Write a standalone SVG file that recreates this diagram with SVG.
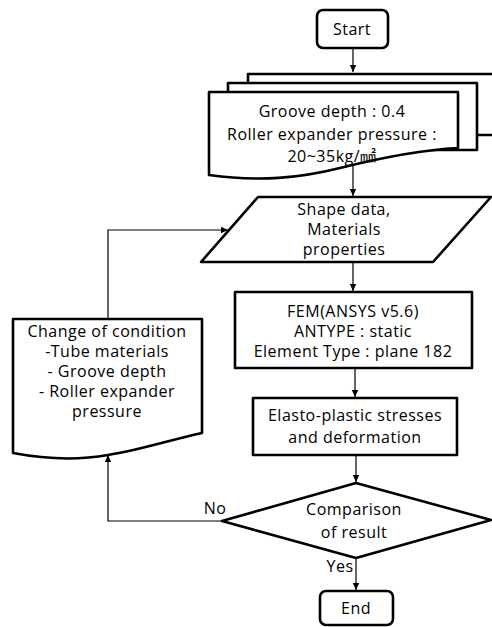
<svg xmlns="http://www.w3.org/2000/svg" width="492" height="627" viewBox="0 0 492 627">
<style>
.s{fill:#fff;stroke:#000;stroke-width:2.6;stroke-linejoin:round}
.c{fill:none;stroke:#000;stroke-width:1.2}
text{font-family:"Open Sans","Noto Sans CJK KR",sans-serif;font-size:16px;letter-spacing:0.5px;fill:#000;text-anchor:middle}
</style>
<defs>
<marker id="ah" markerUnits="userSpaceOnUse" markerWidth="8" markerHeight="8" refX="7" refY="4" orient="auto">
<path d="M0,0.8 L7,4 L0,7.2 Z" fill="#000"/>
</marker>
</defs>
<rect width="492" height="627" fill="#fff"/>
<g id="connectors">
<path class="c" d="M353,48 V72" marker-end="url(#ah)"/>
<path class="c" d="M353,166 V196" marker-end="url(#ah)"/>
<path class="c" d="M353,262 V291" marker-end="url(#ah)"/>
<path class="c" d="M355,368 V397" marker-end="url(#ah)"/>
<path class="c" d="M356,455 V482" marker-end="url(#ah)"/>
<path class="c" d="M356,558 V590" marker-end="url(#ah)"/>
<path class="c" d="M222,521 H108 V455" marker-end="url(#ah)"/>
<path class="c" d="M108,319 V230 H228" marker-end="url(#ah)"/>
</g>
<g id="start">
<rect class="s" x="317" y="10" width="71" height="38" rx="6"/>
<text x="352" y="35">Start</text>
</g>
<g id="input">
<path class="s" d="M248,74 H498 V135 H248 Z"/>
<path class="s" d="M228,83 H477 V150 H228 Z"/>
<path class="s" d="M209,92 H458 V148 C420,150 380,158 340,168 C300,178 260,182 209,175 Z"/>
<text x="332" y="117">Groove depth : 0.4</text>
<text x="332" y="140">Roller expander pressure :</text>
<text x="332" y="162">20~35kg/㎟</text>
</g>
<g id="shape-data">
<path class="s" d="M258,197 H491 L433,262 H201 Z"/>
<text x="344" y="215">Shape data,</text>
<text x="344" y="235">Materials</text>
<text x="344" y="255">properties</text>
</g>
<g id="fem">
<rect class="s" x="235" y="292" width="237" height="76"/>
<text x="353" y="317">FEM(ANSYS v5.6)</text>
<text x="353" y="337">ANTYPE : static</text>
<text x="353" y="357">Element Type : plane 182</text>
</g>
<g id="elasto">
<rect class="s" x="253" y="398" width="204" height="57"/>
<text x="355" y="421">Elasto-plastic stresses</text>
<text x="355" y="443">and deformation</text>
</g>
<g id="comparison">
<path class="s" d="M356,483 L491,520 L356,558 L222,521 Z"/>
<text x="354" y="515">Comparison</text>
<text x="354" y="538">of result</text>
</g>
<g id="change">
<path class="s" d="M13,319 H202 V433 C170,440 140,450 108,455 C80,460 50,460 13,453 Z"/>
<text x="107" y="337">Change of condition</text>
<text x="107" y="357">-Tube materials</text>
<text x="107" y="377">- Groove depth</text>
<text x="107" y="397">- Roller expander</text>
<text x="107" y="417">pressure</text>
</g>
<g id="end">
<rect class="s" x="320" y="591" width="73" height="34" rx="6"/>
<text x="356" y="614">End</text>
</g>
<g id="labels">
<text x="215" y="514">No</text>
<text x="340" y="572">Yes</text>
</g>
</svg>
